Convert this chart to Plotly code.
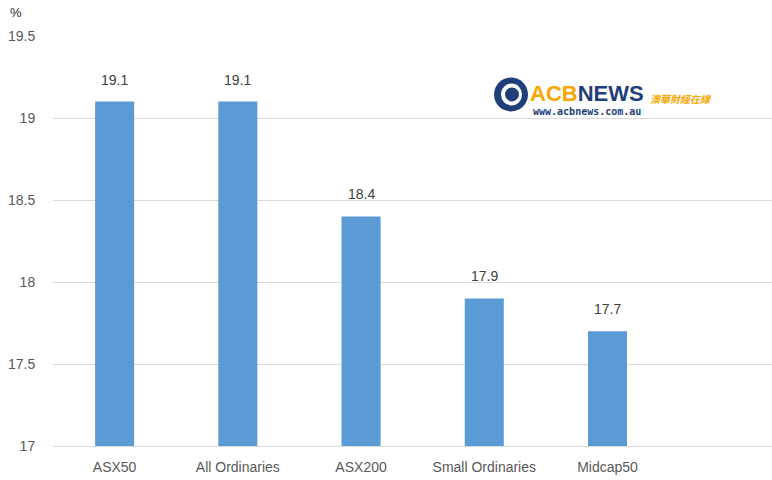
import plotly.graph_objects as go

categories = ["ASX50", "All Ordinaries", "ASX200", "Small Ordinaries", "Midcap50"]
values = [19.1, 19.1, 18.4, 17.9, 17.7]
y_ticks = [17, 17.5, 18, 18.5, 19, 19.5]
y_tick_labels = ["17", "17.5", "18", "18.5", "19", "19.5"]

W, H = 772, 480
L, R, T, B = 53, 0, 35.5, 34
pw, ph = W - L - R, H - T - B


def px(x):
    return (x - L) / pw


def py(y):
    return (H - B - y) / ph


fig = go.Figure()
fig.add_trace(go.Bar(
    x=categories, y=values,
    marker=dict(color="#5B9BD5", line=dict(width=0)),
    hoverinfo="x+y",
))

font_main = "Liberation Sans"
annotations = [
    dict(text=f"{v:.1f}", x=c, y=v, xref="x", yref="y", xanchor="center", yanchor="bottom",
         yshift=12, showarrow=False, font=dict(family=font_main, size=14, color="#404040"))
    for c, v in zip(categories, values)
]
annotations += [
    dict(text="%", x=px(8), y=py(12), xref="paper", yref="paper", xanchor="left",
         yanchor="middle", showarrow=False, font=dict(family=font_main, size=13, color="#262626")),
    dict(text="<b><span style='color:#F5A800'>ACB</span><span style='color:#1F3F7A'>NEWS</span></b>",
         x=px(528), y=py(93), xref="paper", yref="paper", xanchor="left", yanchor="middle",
         showarrow=False, font=dict(family=font_main, size=22)),
    dict(text="<b><i>澳華財經在線</i></b>", x=px(648), y=py(98), xref="paper", yref="paper",
         xanchor="left", yanchor="middle", showarrow=False,
         font=dict(family="Noto Sans CJK TC", size=10, color="#F5A800")),
    dict(text="<b>www.acbnews.com.au</b>", x=px(531), y=py(111), xref="paper", yref="paper",
         xanchor="left", yanchor="middle", showarrow=False,
         font=dict(family="DejaVu Sans Mono", size=10, color="#1F3F7A")),
]

shapes = [
    dict(type="circle", xref="paper", yref="paper", x0=px(494), x1=px(528), y0=py(111), y1=py(77),
         fillcolor="#1F3F7A", line=dict(width=0)),
    dict(type="circle", xref="paper", yref="paper", x0=px(501), x1=px(522), y0=py(105), y1=py(83),
         fillcolor="white", line=dict(width=0)),
    dict(type="circle", xref="paper", yref="paper", x0=px(505), x1=px(519), y0=py(101), y1=py(87),
         fillcolor="#1F3F7A", line=dict(width=0)),
]

fig.update_layout(
    width=W, height=H,
    margin=dict(l=L, r=R, t=T, b=B, pad=0),
    paper_bgcolor="white", plot_bgcolor="white",
    bargap=0.683,
    showlegend=False,
    annotations=annotations,
    shapes=shapes,
    xaxis=dict(
        type="category", range=[-0.5, 5.335],
        showline=True, linecolor="#D9D9D9", linewidth=1,
        ticks="outside", ticklen=8, tickcolor="rgba(0,0,0,0)",
        tickfont=dict(family=font_main, size=14, color="#595959"),
        showgrid=False, fixedrange=True,
    ),
    yaxis=dict(
        range=[17, 19.5], tickvals=y_ticks, ticktext=y_tick_labels,
        showgrid=True, gridcolor="#D9D9D9", gridwidth=1,
        zeroline=False, showline=False,
        ticks="outside", ticklen=14, tickcolor="rgba(0,0,0,0)",
        tickfont=dict(family=font_main, size=14, color="#595959"),
        fixedrange=True,
    ),
)

fig.write_html("out.html")
